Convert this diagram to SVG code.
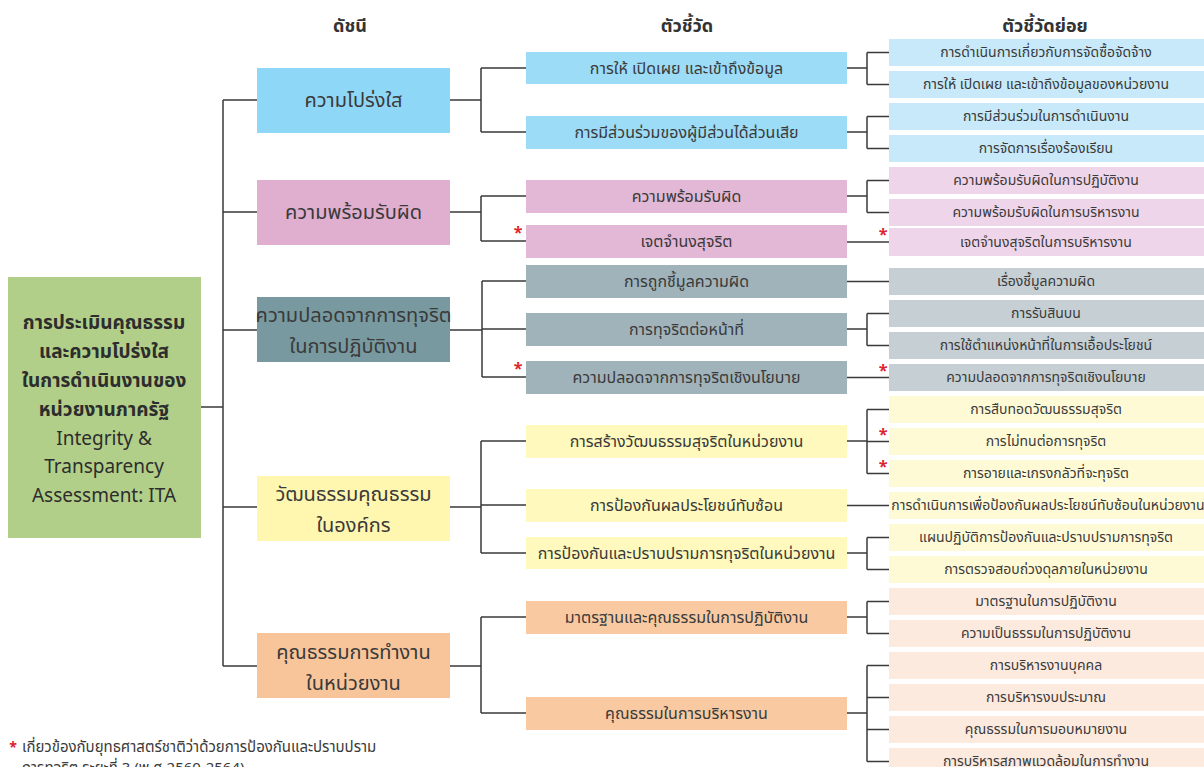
<svg xmlns="http://www.w3.org/2000/svg" width="1204" height="767" viewBox="0 0 1204 767">
<style>
text{font-family:"Noto Sans Thai","Leelawadee UI",Tahoma,"Noto Sans","DejaVu Sans",sans-serif;fill:#3a3a3a;text-anchor:middle}
.h{font-size:18px;font-weight:bold;fill:#333}
.r{font-size:19px;fill:#2d2d2d}
.rb{font-weight:bold}
.l1{font-size:20px}
.l2{font-size:16px}
.l3{font-size:14px}
.st{font-size:16px;fill:#e0202a;font-weight:bold}
.c path,.c line{stroke:#3a3a3a;stroke-width:1.5;fill:none}
.b1{fill:#8fd7f6}.b2{fill:#9cdcf7}.b3{fill:#c7e9f9}
.p1{fill:#e0aecf}.p2{fill:#e3b8d6}.p3{fill:#efd5e9}
.g1{fill:#78999f}.g2{fill:#a1b3ba}.g3{fill:#c5cfd4}
.y1{fill:#fff6b0}.y2{fill:#fff9bd}.y3{fill:#fffad6}
.o1{fill:#f8c59b}.o2{fill:#f9caa2}.o3{fill:#fdeadf}
</style>
<rect width="1204" height="767" fill="#ffffff"/>
<text class="h" x="350" y="32">ดัชนี</text>
<text class="h" x="687" y="32">ตัวชี้วัด</text>
<text class="h" x="1045" y="32">ตัวชี้วัดย่อย</text>

<g class="c" id="connectors">
<path d="M201 407H223M223 100V666M223 100H257M223 212H257M223 330H257M223 507H257M223 666H257"/>
<path d="M450 100H481M481 68V132M481 68H526M481 132H526"/>
<path d="M450 212H481M481 196V241M481 196H526M481 241H526"/>
<path d="M450 330H482M482 281V377M482 281H526M482 329H526M482 377H526"/>
<path d="M450 507H481M481 441V553M481 441H526M481 505H526M481 553H526"/>
<path d="M450 666H481M481 617V713M481 617H526M481 713H526"/>
<path d="M847 68H867M867 52.5V84.5M867 52.5H889M867 84.5H889"/>
<path d="M847 132H867M867 116.5V148.5M867 116.5H889M867 148.5H889"/>
<path d="M847 196H867M867 180.5V212.5M867 180.5H889M867 212.5H889"/>
<path d="M847 242H889"/>
<path d="M847 281.5H889"/>
<path d="M847 329H867M867 313.5V345.5M867 313.5H889M867 345.5H889"/>
<path d="M847 377.5H889"/>
<path d="M847 441H867M867 409.5V473.5M867 409.5H889M867 441.5H889M867 473.5H889"/>
<path d="M847 505.5H889"/>
<path d="M847 553H867M867 537.5V569.5M867 537.5H889M867 569.5H889"/>
<path d="M847 617H867M867 601.5V633.5M867 601.5H889M867 633.5H889"/>
<path d="M847 713H867M867 665.5V761.5M867 665.5H889M867 697.5H889M867 729.5H889M867 761.5H889"/>
</g>

<g id="root">
<rect x="8" y="277" width="193" height="261" fill="#b2cf8a"/>
<text class="r rb" x="104" y="329">การประเมินคุณธรรม</text>
<text class="r rb" x="104" y="358">และความโปร่งใส</text>
<text class="r rb" x="104" y="387">ในการดำเนินงานของ</text>
<text class="r rb" x="104" y="416">หน่วยงานภาครัฐ</text>
<text class="r" x="104" y="445">Integrity &amp;</text>
<text class="r" x="104" y="473">Transparency</text>
<text class="r" x="104" y="502">Assessment: ITA</text>
</g>

<g id="i1"><rect class="b1" x="257" y="68" width="193" height="65"/><text class="l1" x="353.5" y="107">ความโปร่งใส</text></g>
<g id="i2"><rect class="p1" x="257" y="180" width="193" height="65"/><text class="l1" x="353.5" y="219">ความพร้อมรับผิด</text></g>
<g id="i3"><rect class="g1" x="257" y="297" width="193" height="65"/><text class="l1" x="353.5" y="322">ความปลอดจากการทุจริต</text><text class="l1" x="353.5" y="353">ในการปฏิบัติงาน</text></g>
<g id="i4"><rect class="y1" x="257" y="476" width="193" height="65"/><text class="l1" x="353.5" y="501">วัฒนธรรมคุณธรรม</text><text class="l1" x="353.5" y="532">ในองค์กร</text></g>
<g id="i5"><rect class="o1" x="257" y="633" width="193" height="65"/><text class="l1" x="353.5" y="659">คุณธรรมการทำงาน</text><text class="l1" x="353.5" y="690">ในหน่วยงาน</text></g>

<g id="m1"><rect class="b2" x="526" y="52" width="321" height="32"/><text class="l2" x="686.5" y="74">การให้ เปิดเผย และเข้าถึงข้อมูล</text></g>
<g id="m2"><rect class="b2" x="526" y="116" width="321" height="33"/><text class="l2" x="686.5" y="138">การมีส่วนร่วมของผู้มีส่วนได้ส่วนเสีย</text></g>
<g id="m3"><rect class="p2" x="526" y="180" width="321" height="33"/><text class="l2" x="686.5" y="202">ความพร้อมรับผิด</text></g>
<g id="m4"><rect class="p2" x="526" y="225" width="321" height="33"/><text class="l2" x="686.5" y="247">เจตจำนงสุจริต</text><text class="st" x="518" y="238">*</text></g>
<g id="m5"><rect class="g2" x="526" y="265" width="321" height="33"/><text class="l2" x="686.5" y="287">การถูกชี้มูลความผิด</text></g>
<g id="m6"><rect class="g2" x="526" y="313" width="321" height="33"/><text class="l2" x="686.5" y="335">การทุจริตต่อหน้าที่</text></g>
<g id="m7"><rect class="g2" x="526" y="361" width="321" height="33"/><text class="l2" x="686.5" y="383">ความปลอดจากการทุจริตเชิงนโยบาย</text><text class="st" x="518" y="374">*</text></g>
<g id="m8"><rect class="y2" x="526" y="425" width="321" height="33"/><text class="l2" x="686.5" y="447">การสร้างวัฒนธรรมสุจริตในหน่วยงาน</text></g>
<g id="m9"><rect class="y2" x="526" y="489" width="321" height="33"/><text class="l2" x="686.5" y="511">การป้องกันผลประโยชน์ทับซ้อน</text></g>
<g id="m10"><rect class="y2" x="526" y="537" width="321" height="32"/><text class="l2" x="686.5" y="559">การป้องกันและปราบปรามการทุจริตในหน่วยงาน</text></g>
<g id="m11"><rect class="o2" x="526" y="601" width="321" height="33"/><text class="l2" x="686.5" y="623">มาตรฐานและคุณธรรมในการปฏิบัติงาน</text></g>
<g id="m12"><rect class="o2" x="526" y="697" width="321" height="33"/><text class="l2" x="686.5" y="719">คุณธรรมในการบริหารงาน</text></g>

<g id="s1"><rect class="b3" x="889" y="39" width="315" height="27"/><text class="l3" x="1046" y="57">การดำเนินการเกี่ยวกับการจัดซื้อจัดจ้าง</text></g>
<g id="s2"><rect class="b3" x="889" y="71" width="315" height="27"/><text class="l3" x="1046" y="89">การให้ เปิดเผย และเข้าถึงข้อมูลของหน่วยงาน</text></g>
<g id="s3"><rect class="b3" x="889" y="103" width="315" height="27"/><text class="l3" x="1046" y="121">การมีส่วนร่วมในการดำเนินงาน</text></g>
<g id="s4"><rect class="b3" x="889" y="135" width="315" height="27"/><text class="l3" x="1046" y="153">การจัดการเรื่องร้องเรียน</text></g>
<g id="s5"><rect class="p3" x="889" y="167" width="315" height="27"/><text class="l3" x="1046" y="185">ความพร้อมรับผิดในการปฏิบัติงาน</text></g>
<g id="s6"><rect class="p3" x="889" y="199" width="315" height="27"/><text class="l3" x="1046" y="217">ความพร้อมรับผิดในการบริหารงาน</text></g>
<g id="s7"><rect class="p3" x="889" y="228" width="315" height="28"/><text class="l3" x="1046" y="247">เจตจำนงสุจริตในการบริหารงาน</text><text class="st" x="883" y="240">*</text></g>
<g id="s8"><rect class="g3" x="889" y="268" width="315" height="27"/><text class="l3" x="1046" y="286">เรื่องชี้มูลความผิด</text></g>
<g id="s9"><rect class="g3" x="889" y="300" width="315" height="27"/><text class="l3" x="1046" y="318">การรับสินบน</text></g>
<g id="s10"><rect class="g3" x="889" y="332" width="315" height="27"/><text class="l3" x="1046" y="350">การใช้ตำแหน่งหน้าที่ในการเอื้อประโยชน์</text></g>
<g id="s11"><rect class="g3" x="889" y="364" width="315" height="27"/><text class="l3" x="1046" y="382">ความปลอดจากการทุจริตเชิงนโยบาย</text><text class="st" x="883" y="376">*</text></g>
<g id="s12"><rect class="y3" x="889" y="396" width="315" height="27"/><text class="l3" x="1046" y="414">การสืบทอดวัฒนธรรมสุจริต</text></g>
<g id="s13"><rect class="y3" x="889" y="428" width="315" height="27"/><text class="l3" x="1046" y="446">การไม่ทนต่อการทุจริต</text><text class="st" x="883" y="440">*</text></g>
<g id="s14"><rect class="y3" x="889" y="460" width="315" height="27"/><text class="l3" x="1046" y="478">การอายและเกรงกลัวที่จะทุจริต</text><text class="st" x="883" y="472">*</text></g>
<g id="s15"><rect class="y3" x="889" y="492" width="315" height="27"/><text class="l3" x="1048" y="510">การดำเนินการเพื่อป้องกันผลประโยชน์ทับซ้อนในหน่วยงาน</text></g>
<g id="s16"><rect class="y3" x="889" y="524" width="315" height="27"/><text class="l3" x="1046" y="542">แผนปฏิบัติการป้องกันและปราบปรามการทุจริต</text></g>
<g id="s17"><rect class="y3" x="889" y="556" width="315" height="27"/><text class="l3" x="1046" y="574">การตรวจสอบถ่วงดุลภายในหน่วยงาน</text></g>
<g id="s18"><rect class="o3" x="889" y="588" width="315" height="27"/><text class="l3" x="1046" y="606">มาตรฐานในการปฏิบัติงาน</text></g>
<g id="s19"><rect class="o3" x="889" y="620" width="315" height="27"/><text class="l3" x="1046" y="638">ความเป็นธรรมในการปฏิบัติงาน</text></g>
<g id="s20"><rect class="o3" x="889" y="652" width="315" height="27"/><text class="l3" x="1046" y="670">การบริหารงานบุคคล</text></g>
<g id="s21"><rect class="o3" x="889" y="684" width="315" height="27"/><text class="l3" x="1046" y="702">การบริหารงบประมาณ</text></g>
<g id="s22"><rect class="o3" x="889" y="716" width="315" height="27"/><text class="l3" x="1046" y="734">คุณธรรมในการมอบหมายงาน</text></g>
<g id="s23"><rect class="o3" x="889" y="748" width="315" height="27"/><text class="l3" x="1046" y="766">การบริหารสภาพแวดล้อมในการทำงาน</text></g>

<g id="note">
<text class="st" x="13" y="752" style="font-size:14px">*</text>
<text x="22" y="752" style="font-size:15px;text-anchor:start">เกี่ยวข้องกับยุทธศาสตร์ชาติว่าด้วยการป้องกันและปราบปราม</text>
<text x="22" y="773" style="font-size:15px;text-anchor:start">การทุจริต ระยะที่ 3 (พ.ศ.2560-2564)</text>
</g>
</svg>
